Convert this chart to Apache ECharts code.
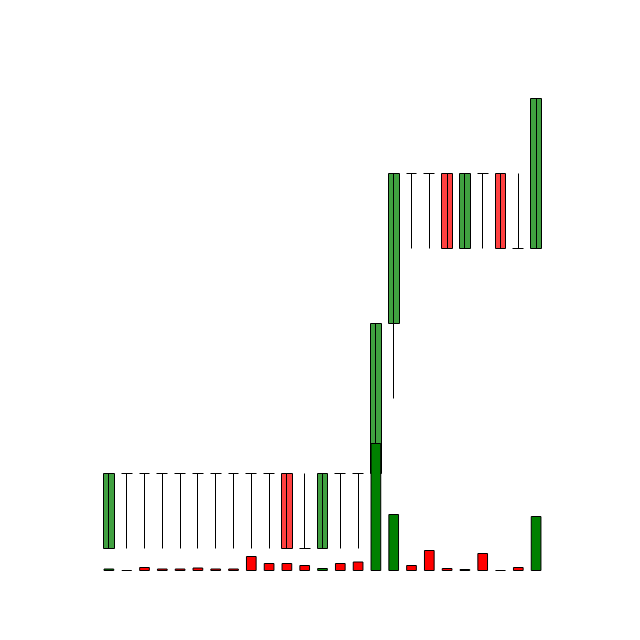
<!DOCTYPE html>
<html>
<head>
<meta charset="utf-8">
<script src="https://cdn.jsdelivr.net/npm/echarts@6/dist/echarts.min.js"></script>
<style>html,body{margin:0;padding:0;background:#fff;}#c{width:640px;height:640px;}</style>
</head>
<body>
<div id="c"></div>
<script>
var categories = ['1','2','3','4','5','6','7','8','9','10','11','12','13','14','15','16','17','18','19','20','21','22','23','24','25'];
var openV  = [10,11,11,11,11,11,11,11,11,11,11,10,10,11,11,11,13,15,15,15,14,15,15,14,14];
var closeV = [11,11,11,11,11,11,11,11,11,11,10,10,11,11,11,13,15,15,15,14,15,15,14,14,16];
var lowV   = [10,10,10,10,10,10,10,10,10,10,10,10,10,10,10,11,12,14,14,14,14,14,14,14,14];
var highV  = [11,11,11,11,11,11,11,11,11,11,11,11,11,11,11,13,15,15,15,15,15,15,15,15,16];
var volumeV = [25,10,40,25,25,35,25,25,150,80,80,60,30,80,95,1280,570,60,210,30,20,180,10,40,550];

var candleData = categories.map(function (c, i) {
  return [i, openV[i], closeV[i], lowV[i], highV[i]];
});
var volData = volumeV.map(function (v, i) {
  return {
    value: v,
    itemStyle: { color: closeV[i] > openV[i] ? '#008000' : '#ff0000' }
  };
});

function snap(v) { return Math.round(v - 0.5) + 0.5; }

function renderCandle(params, api) {
  var i = api.value(0);
  var o = api.coord([i, api.value(1)]);
  var c = api.coord([i, api.value(2)]);
  var l = api.coord([i, api.value(3)]);
  var h = api.coord([i, api.value(4)]);
  var w = api.size([1, 0])[0] * 0.6;
  var x = snap(o[0]);
  var x0 = snap(o[0] - w / 2);
  var x1 = snap(o[0] + w / 2);
  var children = [];
  var up = api.value(2) > api.value(1);
  if (api.value(1) !== api.value(2)) {
    var top = snap(Math.min(o[1], c[1]));
    var bot = snap(Math.max(o[1], c[1]));
    children.push({
      type: 'rect',
      shape: { x: x0, y: top, width: x1 - x0, height: bot - top },
      style: { fill: up ? '#40a040' : '#ff4040', stroke: '#000', lineWidth: 1 }
    });
  } else {
    var yy = snap(o[1]);
    children.push({
      type: 'line',
      shape: { x1: x0, y1: yy, x2: x1, y2: yy },
      style: { stroke: '#000', lineWidth: 1 }
    });
  }
  children.push({
    type: 'line',
    shape: { x1: x, y1: snap(h[1]), x2: x, y2: snap(l[1]) },
    style: { stroke: '#000', lineWidth: 1 }
  });
  return { type: 'group', children: children };
}

var chart = echarts.init(document.getElementById('c'));
chart.setOption({
  backgroundColor: '#fff',
  animation: false,
  grid: [
    { left: 100, right: 95, top: 24, bottom: 17 },
    { left: 100, right: 95, top: 311, bottom: 69 }
  ],
  xAxis: [
    { type: 'category', data: categories, gridIndex: 0, show: false },
    { type: 'category', data: categories, gridIndex: 1, show: false }
  ],
  yAxis: [
    { type: 'value', gridIndex: 0, min: 9, max: 17, show: false },
    { type: 'value', gridIndex: 1, min: 0, max: 2600, show: false }
  ],
  series: [
    {
      type: 'custom',
      xAxisIndex: 0,
      yAxisIndex: 0,
      renderItem: renderCandle,
      data: candleData,
      z: 2
    },
    {
      type: 'bar',
      xAxisIndex: 1,
      yAxisIndex: 1,
      data: volData,
      barWidth: '60%',
      itemStyle: { borderColor: '#000', borderWidth: 1 },
      z: 3
    }
  ]
});
</script>
</body>
</html>
